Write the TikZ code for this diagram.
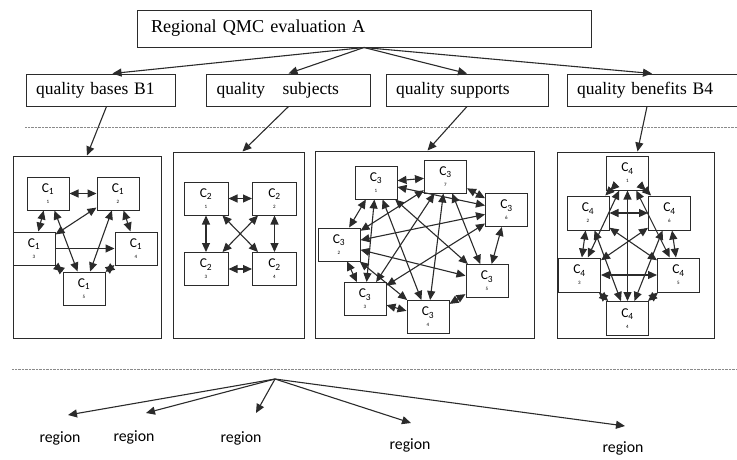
\documentclass[tikz,border=0pt]{standalone}
\usepackage{fontspec}
\setmainfont{Liberation Serif}
\setsansfont{Carlito}
\usetikzlibrary{arrows.meta}
\definecolor{edgegray}{HTML}{2B2B2B}
\definecolor{dotgray}{HTML}{8A8A8A}

\begin{document}
\begin{tikzpicture}[
  x=1pt, y=-1pt,
  >={Triangle[length=9pt,width=8pt]},
  line width=1pt,
  titlebox/.style={rectangle, draw=edgegray, inner ysep=0pt, inner xsep=10pt, align=left, font=\fontsize{17.5}{20}\selectfont},
  frame/.style={rectangle, draw=edgegray, inner sep=0pt},
  cbox/.style={rectangle, draw=edgegray, inner sep=0pt, minimum width=42pt, minimum height=33pt, align=center, font=\sffamily\fontsize{13.5}{11}\selectfont},
  link/.style={<->, draw=edgegray, line width=1.1pt},
  flow/.style={->, draw=edgegray, line width=1.1pt},
  sep/.style={draw=dotgray, line width=0.9pt, dash pattern=on 0.7pt off 0.7pt},
  reg/.style={font=\sffamily\fontsize{15.8}{18}\selectfont, inner sep=0pt}
]
  \useasboundingbox (0,0) rectangle (737,459);

  % top level and criteria
  \node[titlebox, text width=426pt, inner xsep=14pt, minimum height=37pt, font=\fontsize{18.2}{20}\selectfont] (qmc) at (364,28.5) {Regional QMC evaluation A};
  \node[titlebox, text width=129pt, minimum height=32pt] (b1) at (100.5,90) {quality bases B1};
  \node[titlebox, text width=144pt, minimum height=32pt] (b2) at (288.5,90) {quality \ \ subjects};
  \node[titlebox, text width=142pt, minimum height=32pt] (b3) at (467,90) {quality supports};
  \node[titlebox, text width=150pt, minimum height=32pt] (b4) at (652,90) {quality benefits B4};

  \draw[flow] (qmc.south) -- ([xshift=12pt]b1.north);
  \draw[flow] (qmc.south) -- (b2.north);
  \draw[flow] (qmc.south) -- (b3.north);
  \draw[flow] (qmc.south) -- (b4.north);

  \draw[sep] (25,127) -- (737,127);

  % cluster frames
  \node[frame, minimum width=148pt, minimum height=182pt] (f1) at (87,247) {};
  \node[frame, minimum width=131pt, minimum height=186pt] (f2) at (238.5,245) {};
  \node[frame, minimum width=219pt, minimum height=187pt] (f3) at (424.5,244.5) {};
  \node[frame, minimum width=157pt, minimum height=186pt] (f4) at (635.5,245) {};

  \draw[flow] ([xshift=6pt]b1.south) -- (f1.north);
  \draw[flow] (b2.south) -- ([xshift=4pt]f2.north);
  \draw[flow] (b3.south) -- ([xshift=3pt]f3.north);
  \draw[flow] ([xshift=-5pt]b4.south) -- ([xshift=2pt]f4.north);

  % cluster 1
  \node[cbox] (c11) at (48,193.5) {C\textsubscript{1}\\{\fontsize{5}{5}\selectfont 1}};
  \node[cbox] (c12) at (118,193.5) {C\textsubscript{1}\\{\fontsize{5}{5}\selectfont 2}};
  \node[cbox] (c13) at (34,248.5) {C\textsubscript{1}\\{\fontsize{5}{5}\selectfont 3}};
  \node[cbox] (c14) at (136,248.5) {C\textsubscript{1}\\{\fontsize{5}{5}\selectfont 4}};
  \node[cbox] (c15) at (84,288.5) {C\textsubscript{1}\\{\fontsize{5}{5}\selectfont 5}};

  \draw[link] (c11) -- (c12);
  \draw[link] (c11) -- (c13);
  \draw[link] (c12) -- (c14);
  \draw[link] (c13) -- (c15);
  \draw[link] (c14) -- (c15);
  \draw[link] (c11) -- (c15);
  \draw[link] (c12) -- (c13);
  \draw[link] (c12) -- (c15);
  \draw[flow] (c13) -- (c14);

  % cluster 2
  \node[cbox, minimum width=44pt] (c21) at (206,198.5) {C\textsubscript{2}\\{\fontsize{5}{5}\selectfont 1}};
  \node[cbox, minimum width=44pt] (c22) at (274.5,198.5) {C\textsubscript{2}\\{\fontsize{5}{5}\selectfont 2}};
  \node[cbox, minimum width=44pt] (c23) at (206,269) {C\textsubscript{2}\\{\fontsize{5}{5}\selectfont 3}};
  \node[cbox, minimum width=44pt] (c24) at (274.5,269) {C\textsubscript{2}\\{\fontsize{5}{5}\selectfont 4}};

  \draw[link] (c21) -- (c22);
  \draw[link] (c23) -- (c24);
  \draw[link] (c21) -- (c23);
  \draw[link] (c22) -- (c24);
  \draw[link] (c21) -- (c24);
  \draw[link] (c22) -- (c23);

  % cluster 3
  \node[cbox] (c31) at (376,182.5) {C\textsubscript{3}\\{\fontsize{5}{5}\selectfont 1}};
  \node[cbox] (c37) at (445.5,176.5) {C\textsubscript{3}\\{\fontsize{5}{5}\selectfont 7}};
  \node[cbox] (c36) at (506.5,210) {C\textsubscript{3}\\{\fontsize{5}{5}\selectfont 6}};
  \node[cbox] (c32) at (339,244.5) {C\textsubscript{3}\\{\fontsize{5}{5}\selectfont 2}};
  \node[cbox] (c33) at (365,299) {C\textsubscript{3}\\{\fontsize{5}{5}\selectfont 3}};
  \node[cbox] (c34) at (428,317) {C\textsubscript{3}\\{\fontsize{5}{5}\selectfont 4}};
  \node[cbox] (c35) at (487,281) {C\textsubscript{3}\\{\fontsize{5}{5}\selectfont 5}};

  \draw[link] (c31) -- (c37);
  \draw[link] (c37) -- (c36);
  \draw[link] (c36) -- (c35);
  \draw[link] (c35) -- (c34);
  \draw[link] (c34) -- (c33);
  \draw[link] (c33) -- (c32);
  \draw[link] (c32) -- (c31);
  \draw[link] (c31) -- (c33);
  \draw[link] (c31) -- (c34);
  \draw[link] (c31) -- (c35);
  \draw[link] (c31) -- (c36);
  \draw[link] (c32) -- (c37);
  \draw[link] (c32) -- (c36);
  \draw[link] (c32) -- (c35);
  \draw[link] (c32) -- (c34);
  \draw[link] (c37) -- (c33);
  \draw[link] (c37) -- (c34);
  \draw[link] (c37) -- (c35);
  \draw[link] (c33) -- (c36);

  % cluster 4
  \node[cbox, minimum height=34pt] (c41) at (627.5,173) {C\textsubscript{4}\\{\fontsize{5}{5}\selectfont 1}};
  \node[cbox, minimum height=34pt] (c42) at (588,213) {C\textsubscript{4}\\{\fontsize{5}{5}\selectfont 2}};
  \node[cbox, minimum height=34pt] (c46) at (669.5,213) {C\textsubscript{4}\\{\fontsize{5}{5}\selectfont 6}};
  \node[cbox, minimum height=34pt] (c43) at (579.5,275) {C\textsubscript{4}\\{\fontsize{5}{5}\selectfont 3}};
  \node[cbox, minimum height=34pt] (c45) at (678.5,275) {C\textsubscript{4}\\{\fontsize{5}{5}\selectfont 5}};
  \node[cbox, minimum height=34pt] (c44) at (627.5,318.5) {C\textsubscript{4}\\{\fontsize{5}{5}\selectfont 4}};

  \draw[link] (c41) -- (c42);
  \draw[link] (c41) -- (c46);
  \draw[link] (c42) -- (c43);
  \draw[link] (c46) -- (c45);
  \draw[link] (c43) -- (c44);
  \draw[link] (c45) -- (c44);
  \draw[link] (c41) -- (c44);
  \draw[link] (c41) -- (c43);
  \draw[link] (c41) -- (c45);
  \draw[link] (c42) -- (c45);
  \draw[link] (c42) -- (c44);
  \draw[link] (c46) -- (c43);
  \draw[link] (c46) -- (c44);
  \draw[link] (c43) -- (c45);
  \draw[link] (c42) -- (c46);

  \draw[sep] (12,369) -- (737,369);

  % regions
  \coordinate (fan) at (275,379);
  \coordinate (t1) at (68,415);
  \coordinate (t2) at (146,413);
  \coordinate (t3) at (256,413);
  \coordinate (t4) at (411,423);
  \coordinate (t5) at (625,426);
  \node[reg] (r1) at (60,438) {region};
  \node[reg] (r2) at (134,437) {region};
  \node[reg] (r3) at (241,438) {region};
  \node[reg] (r4) at (410,445) {region};
  \node[reg] (r5) at (623,448) {region};

  \draw[flow] (fan) -- (t1);
  \draw[flow] (fan) -- (t2);
  \draw[flow] (fan) -- (t3);
  \draw[flow] (fan) -- (t4);
  \draw[flow] (fan) -- (t5);
\end{tikzpicture}
\end{document}
